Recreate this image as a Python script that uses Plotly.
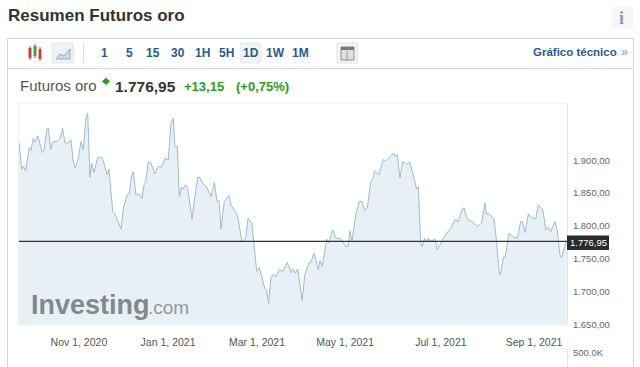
import plotly.graph_objects as go

W, H = 640, 367

# trading-session index of each read point, and the gold future's close
sessions = [0,1.3,2.1,3.2,4.9,5.7,6.8,7.7,9.0,11.2,12.0,13.3,14.0,15.2,16.4,18.1,19.6,20.9,22.0,23.6,24.9,26.0,27.0,28.4,29.7,30.8,32.1,32.9,34.0,34.8,35.9,37.7,39.6,40.7,42.3,43.1,44.9,46.0,48.9,50.0,51.9,52.8,54.0,54.8,56.0,57.6,58.9,59.9,60.7,61.9,63.2,65.0,66.7,68.4,69.9,71.5,72.8,73.9,74.7,75.8,76.8,77.9,78.7,79.8,80.8,82.9,83.8,85.6,86.7,88.0,89.9,92.0,93.6,94.8,95.8,96.8,98.3,100.6,101.5,104.6,106.8,108.6,109.7,111.5,113.9,115.1,115.8,117.8,118.6,119.6,120.6,121.8,123.1,124.7,126.3,128.5,130.4,131.4,132.3,133.5,135.6,136.9,138.9,139.9,141.3,143.4,144.2,145.3,147.4,148.4,150.3,151.8,154.1,156.6,157.6,158.5,159.5,161.3,163.0,164.3,165.7,166.8,168.5,169.3,170.5,172.4,174.5,175.6,179.3,180.1,181.2,182.5,183.8,185.7,187.3,189.7,190.5,191.3,192.4,193.2,194.2,195.2,196.1,196.9,199.3,200.4,203.2,207.3,208.8,210.4,212.5,213.2,214.7,216.9,219.5,221.6,223.2,224.0,224.8,227.5,228.5,230.1,230.7,232.0,232.9,234.7,236.8,238.7,240.3,241.1,242.4,244.0,245.2,247.5,248.7,250.9,252.4,253.5,254.7,256.7,257.8,259.1,259.9,261.8,262.3]
prices = [1926.7,1886.4,1891.4,1883.8,1919.7,1914.5,1933.3,1927.3,1936.8,1911.5,1914.5,1947.4,1948.5,1916.7,1928.2,1928.2,1932.7,1948.5,1926.7,1925.8,1930.8,1897.9,1887.9,1903,1928.2,1915.6,1966,1971.2,1874.2,1895.5,1881.2,1904.5,1904.5,1895.5,1877.7,1886.4,1822.1,1818.6,1795.5,1827.3,1847.4,1849,1877.7,1882.7,1847.4,1848.5,1841.8,1862.6,1867.6,1897.9,1896.4,1879.2,1890.3,1890.3,1903,1900.5,1956,1963.6,1920.6,1921.7,1844.9,1859.1,1856.1,1862.6,1857.6,1810.6,1834.9,1874.2,1873.6,1865.2,1859.1,1844.9,1866.1,1838.3,1838.3,1795.5,1837.3,1846.4,1832.3,1817.1,1776.7,1781.8,1812.1,1804.6,1731.2,1737.3,1729.3,1704.6,1702.4,1682.3,1721.2,1726.2,1723.7,1733.8,1731.2,1744.9,1729.7,1734.9,1728.8,1735.3,1687.3,1726.2,1744,1745.5,1759.1,1733.8,1747.9,1738.8,1780.3,1774.3,1794.4,1781.8,1780.8,1769.1,1769.1,1792.9,1776.7,1817.1,1837.3,1837.3,1823.6,1827.3,1867.6,1870.2,1883.8,1877.7,1901.5,1898.9,1910.6,1905.5,1909.1,1872.7,1897.9,1894.4,1896.4,1862.6,1856.1,1860,1774.3,1769.1,1781.8,1776.7,1781.8,1776.7,1780.3,1764.1,1781.8,1799.4,1809.6,1807,1827.3,1827.3,1810.6,1807,1799.4,1804.6,1834.9,1817.1,1819.7,1811.1,1784.3,1726.2,1727.7,1753,1753,1789.4,1783.3,1781.8,1807,1807,1790.3,1818.6,1813.6,1811.1,1832.3,1824.7,1794.4,1798.5,1791.8,1807,1794.4,1756.5,1751.5,1774.3,1776.95]

last_price = 1776.95
date_ticks = [28.7, 71.4, 114, 156.2, 202.1, 246.7]
date_labels = ["Nov 1, 2020", "Jan 1, 2021", "Mar 1, 2021", "May 1, 2021", "Jul 1, 2021", "Sep 1, 2021"]
price_ticks = [1650, 1700, 1750, 1800, 1850, 1900]
intervals = ["1", "5", "15", "30", "1H", "5H", "1D", "1W", "1M"]
interval_x = [104, 129, 153, 177.5, 202, 226, 251, 275.5, 300]

PX0, PX1, PY0, PY1 = 19, 567, 103, 325
FONT = "Liberation Sans"
BLUE = "#2a5a8c"
GREEN = "#2a9d1f"

def fx(x): return x / W
def fy(y): return 1 - y / H

anns, shapes = [], []

def text(x, y, s, size, color, bold=False, anchor="left", family=FONT):
    anns.append(dict(x=fx(x), y=fy(y), xref="paper", yref="paper", text=f"<b>{s}</b>" if bold else s,
                     showarrow=False, xanchor=anchor, yanchor="middle", borderpad=0,
                     font=dict(family=family, size=size, color=color)))

def rect(x0, y0, x1, y1, fill="rgba(0,0,0,0)", line=None, width=1, layer="above"):
    shapes.append(dict(type="rect", xref="paper", yref="paper", x0=fx(x0), x1=fx(x1), y0=fy(y0), y1=fy(y1),
                       fillcolor=fill, line=dict(color=line or "rgba(0,0,0,0)", width=width if line else 0), layer=layer))

def line(x0, y0, x1, y1, color, width=1, layer="above"):
    shapes.append(dict(type="line", xref="paper", yref="paper", x0=fx(x0), x1=fx(x1), y0=fy(y0), y1=fy(y1),
                       line=dict(color=color, width=width), layer=layer))

# page chrome
text(7, 15, "Resumen Futuros oro", 17, "#333333", True)
rect(612, 7, 633, 29, fill="#f4f6f8")
text(621, 18, "<b>i</b>", 18, "#7f9cc0", False, "center", "Liberation Serif")
line(7.5, 38.5, 633.5, 38.5, "#d4d4d4")
line(7.5, 38.5, 7.5, 367, "#d4d4d4")
line(633.5, 38.5, 633.5, 367, "#d4d4d4")
line(7.5, 68.5, 633.5, 68.5, "#dcdcdc")

# toolbar icons
for x, c, top, bot in [(30, "#c8423c", 48, 58), (35, "#4e9a3e", 46, 56), (40, "#c8423c", 49, 59)]:
    line(x, top - 2, x, bot + 2, "#666666")
    rect(x - 1.5, top, x + 1.5, bot, fill=c)
rect(52, 43, 73.5, 63, fill="#eef1f5", line="#e4e8ed")
shapes.append(dict(type="path", xref="paper", yref="paper",
                   path=f"M {fx(56)} {fy(59)} L {fx(60)} {fy(54)} L {fx(64)} {fy(56)} L {fx(70)} {fy(49)} L {fx(70)} {fy(59)} Z",
                   fillcolor="#cfdbe8", line=dict(color="#8fa9c4", width=1)))
line(83.5, 43, 83.5, 63, "#dddddd")
rect(240.5, 43, 261, 63, fill="#f1f4f7", line="#e6e9ed")
for x, s in zip(interval_x, intervals):
    text(x, 53, s, 12, BLUE, True, "center")
rect(337, 43, 357.5, 63, fill="#f4f4f4", line="#e2e2e2")
rect(341, 47, 354, 60, fill="#e0e0e0", line="#8a8a8a")
rect(341, 47, 354, 50, fill="#777777")
line(347, 51, 347, 60, "#999999")
text(532, 52, "Gráfico técnico", 11.5, BLUE, True)
text(620, 51.5, "»", 13, "#8aa3bd", False)

# quote line
text(18.5, 85.5, "Futuros oro", 15, "#555555")
shapes.append(dict(type="path", xref="paper", yref="paper",
                   path=f"M {fx(106)} {fy(77.5)} L {fx(110)} {fy(81.5)} L {fx(106)} {fy(85)} L {fx(102)} {fy(81.5)} Z",
                   fillcolor=GREEN, line=dict(width=0)))
text(114, 86, "1.776,95", 15.5, "#333333", True)
text(183, 86.5, "+13,15", 13, GREEN, True)
text(235, 86.5, "(+0,75%)", 13, GREEN, True)

# plot frame
line(19, 103, 567, 103, "#f0f0f0")
line(18.5, 103, 18.5, 325, "#f0f0f0")
line(567.5, 103, 567.5, 325, "#e4e4e4")
line(567.5, 349, 567.5, 367, "#e4e4e4")
rect(567, 235.5, 609, 250, fill="#2b2b2b")
text(588, 242.5, "1.776,95", 9.5, "#ffffff", False, "center")
text(571.5, 352.5, "500.0K", 9.5, "#666666")

# watermark
text(30, 305, "<b>Investing</b>", 27, "#7f8a8f")
text(147, 307.5, ".com", 19, "#8f999e")

fig = go.Figure(go.Scatter(x=sessions, y=prices, mode="lines", fill="tozeroy",
                           line=dict(color="#9dbbd3", width=1), fillcolor="#e8f0f6", hoverinfo="skip"))
fig.add_shape(type="line", xref="paper", yref="y", x0=fx(18), x1=fx(PX1), y0=last_price, y1=last_price,
              line=dict(color="#333333", width=1.2), layer="above")

fig.update_layout(
    width=W, height=H, margin=dict(l=0, r=0, t=0, b=0, autoexpand=False), paper_bgcolor="white", plot_bgcolor="white",
    showlegend=False, separators=",.", annotations=anns,
    shapes=list(fig.layout.shapes) + shapes,
    font=dict(family=FONT),
    xaxis=dict(domain=[fx(PX0), fx(PX1)], range=[0, (PX1 - PX0) * 0.479], tickvals=date_ticks, ticktext=date_labels,
               showgrid=False, zeroline=False, showline=False, ticks="outside", ticklen=7, tickcolor="rgba(0,0,0,0)",
               tickfont=dict(size=10.5, color="#555555", family=FONT)),
    yaxis=dict(domain=[fy(PY1), fy(PY0)], range=[1650, 1986.8], side="right", tickvals=price_ticks, tickformat=",.2f",
               showgrid=False, zeroline=False, showline=False, ticks="outside", ticklen=3, tickcolor="rgba(0,0,0,0)",
               tickfont=dict(size=9.5, color="#666666", family=FONT)),
)

fig.write_html("out.html", config=dict(displayModeBar=False),
               post_script="document.body.style.margin='0';document.body.style.overflow='hidden';")
